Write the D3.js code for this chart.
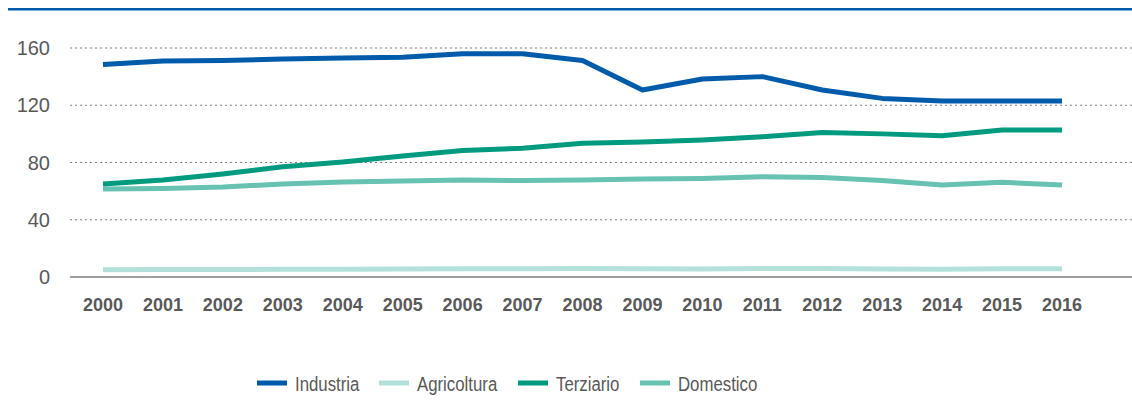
<!DOCTYPE html>
<html>
<head>
<meta charset="utf-8">
<script src="https://cdn.jsdelivr.net/npm/d3@7"></script>
<style>
  body { margin: 0; background: #fff; }
  svg text { font-family: "Liberation Sans", Arial, sans-serif; fill: #595959; }
</style>
</head>
<body>
<div id="chart"></div>
<script>
// anni e serie (TWh)
var years = ["2000","2001","2002","2003","2004","2005","2006","2007","2008",
             "2009","2010","2011","2012","2013","2014","2015","2016"];
var industria   = [148.5, 151, 151.3, 152.3, 153, 153.5, 156, 156, 151.2, 130.7, 138.3, 140, 130.7, 124.8, 123, 123, 123];
var agricoltura = [5.0, 5.3, 5.2, 5.4, 5.5, 5.6, 5.7, 5.7, 5.9, 5.7, 5.6, 5.9, 5.9, 5.6, 5.5, 5.8, 5.8];
var terziario   = [65, 67.8, 72, 77, 80.3, 84.5, 88.4, 90, 93.4, 94.3, 95.7, 98, 101, 100, 98.7, 102.7, 102.7];
var domestico   = [61.5, 61.8, 62.9, 65, 66.4, 67, 67.8, 67.4, 67.8, 68.5, 68.8, 70, 69.5, 67.4, 64.3, 66.2, 64.3];
var yTicks = [0, 40, 80, 120, 160];

var series = [
  {name: "Industria",   values: industria,   color: "#005baa"},
  {name: "Agricoltura", values: agricoltura, color: "#b3e1d9"},
  {name: "Terziario",   values: terziario,   color: "#009a7e"},
  {name: "Domestico",   values: domestico,   color: "#67c2b1"}
];
// ordine di disegno: Domestico sotto Terziario
var drawOrder = [series[1], series[3], series[2], series[0]];

var W = 1132, H = 414;
var svg = d3.select("#chart").append("svg")
    .attr("width", W)
    .attr("height", H);

// filetto blu del titolo
svg.append("rect")
    .attr("x", 8).attr("y", 8)
    .attr("width", W - 8).attr("height", 2.5)
    .attr("fill", "#005baa");

var x = d3.scalePoint().domain(years).range([103, 1062]);
var y = d3.scaleLinear().domain([0, 160]).range([277, 48]);

// griglia tratteggiata
svg.selectAll(".grid")
    .data(yTicks.filter(function (d) { return d > 0; }))
    .enter().append("line")
    .attr("x1", 70).attr("x2", W)
    .attr("y1", function (d) { return y(d); })
    .attr("y2", function (d) { return y(d); })
    .attr("stroke", "#7f7f7f")
    .attr("stroke-width", 1)
    .attr("stroke-dasharray", "2,3");

// asse zero
svg.append("line")
    .attr("x1", 70).attr("x2", W)
    .attr("y1", y(0)).attr("y2", y(0))
    .attr("stroke", "#7f7f7f")
    .attr("stroke-width", 1.5);

// etichette asse y
svg.selectAll(".ylab")
    .data(yTicks)
    .enter().append("text")
    .attr("x", 50)
    .attr("y", function (d) { return y(d); })
    .attr("dy", "0.36em")
    .attr("text-anchor", "end")
    .attr("font-size", "20px")
    .text(function (d) { return d; });

// etichette asse x
svg.selectAll(".xlab")
    .data(years)
    .enter().append("text")
    .attr("x", function (d) { return x(d); })
    .attr("y", 305)
    .attr("dy", "0.36em")
    .attr("text-anchor", "middle")
    .attr("font-size", "18px")
    .attr("font-weight", "bold")
    .text(function (d) { return d; });

var line = d3.line()
    .x(function (d, i) { return x(years[i]); })
    .y(function (d) { return y(d); });

svg.selectAll(".serie")
    .data(drawOrder)
    .enter().append("path")
    .attr("d", function (d) { return line(d.values); })
    .attr("fill", "none")
    .attr("stroke", function (d) { return d.color; })
    .attr("stroke-width", 5)
    .attr("stroke-linejoin", "round");

// legenda
var legX = [257, 379, 518, 640];
var leg = svg.selectAll(".leg")
    .data(series)
    .enter().append("g")
    .attr("transform", function (d, i) { return "translate(" + legX[i] + ",383)"; });

leg.append("line")
    .attr("x1", 0).attr("x2", 30)
    .attr("stroke", function (d) { return d.color; })
    .attr("stroke-width", 5);

// testo un po' stretto come nell'originale
leg.append("text")
    .attr("transform", "translate(38,0) scale(0.8,1)")
    .attr("dy", "0.36em")
    .attr("font-size", "21px")
    .text(function (d) { return d.name; });
</script>
</body>
</html>
